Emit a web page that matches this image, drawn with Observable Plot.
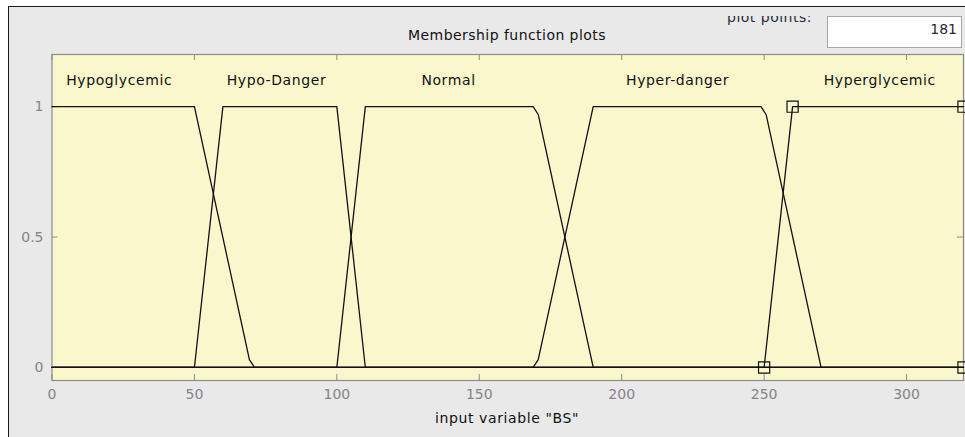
<!DOCTYPE html>
<html><head><meta charset="utf-8">
<script src="https://cdn.jsdelivr.net/npm/d3@7"></script>
<script src="https://cdn.jsdelivr.net/npm/@observablehq/plot@0.6"></script>
<style>
html,body{margin:0;padding:0;background:#fff;}
#wrap{position:relative;width:965px;height:437px;overflow:hidden;background:#fff;}
#panel{position:absolute;left:8px;top:6px;right:0;bottom:0;background:#e9e9e9;border-left:1.5px solid #1a1a1a;border-top:1.5px solid #1a1a1a;}
#chart{position:absolute;left:0;top:0;}
svg text{font-family:"DejaVu Sans",sans-serif;}
</style></head><body>
<div id="wrap"><div id="panel"></div><div id="chart"></div></div>
<script>
// ---- data ----
const xDomain = [0, 320];
const yDomain = [-0.05, 1.2];
const xTicks = [0, 50, 100, 150, 200, 250, 300];
const yTicks = [0, 0.5, 1];
const yTickLabels = ["0", "0.5", "1"];

const mfNames = ["Hypoglycemic", "Hypo-Danger", "Normal", "Hyper-danger", "Hyperglycemic"];
const mfLabelX = [23.6, 78.8, 139.2, 219.6, 290.6];
const mfLabelY = 1.1;

const hypoglycemicX = [0, 50, 69.3, 71.1, 320];
const hypoglycemicY = [1, 1, 0.03, 0, 0];
const hypoDangerX = [0, 50, 60, 100, 110, 320];
const hypoDangerY = [0, 0, 1, 1, 0, 0];
const normalX = [0, 100, 110, 168.9, 170.7, 190, 320];
const normalY = [0, 0, 1, 1, 0.97, 0, 0];
const hyperDangerX = [0, 168.9, 170.7, 190, 248.9, 250.7, 270, 320];
const hyperDangerY = [0, 0, 0.03, 1, 1, 0.97, 0, 0];
const hyperglycemicX = [0, 250, 260, 320];
const hyperglycemicY = [0, 0, 1, 1];

const selectedX = [250, 260, 320, 320];
const selectedY = [0, 1, 1, 0];

const title = "Membership function plots";
const xLabel = 'input variable "BS"';
const pointsLabel = "plot points:";
const pointsValue = "181";

// ---- tables ----
const curves = [
  [hypoglycemicX, hypoglycemicY], [hypoDangerX, hypoDangerY], [normalX, normalY],
  [hyperDangerX, hyperDangerY], [hyperglycemicX, hyperglycemicY]
];
const mfTable = curves.flatMap(([xs, ys], k) => xs.map((x, i) => ({mf: mfNames[k], x, y: ys[i]})));
const selTable = selectedX.map((x, i) => ({x, y: selectedY[i]}));
const labelTable = mfNames.map((name, i) => ({name, x: mfLabelX[i], y: mfLabelY}));

// ---- layout ----
const W = 965, H = 437, mL = 51.5, mR = 2, mT = 54, mB = 57;
const plotW = W - mL - mR, plotH = H - mT - mB;
const axisGray = "#858585";
const frameGray = "#8c8c8c";

const chart = Plot.plot({
  width: W, height: H,
  marginLeft: mL, marginRight: mR, marginTop: mT, marginBottom: mB,
  style: {background: "transparent", fontFamily: "DejaVu Sans", fontSize: "14px"},
  x: {domain: xDomain},
  y: {domain: yDomain},
  marks: [
    Plot.frame({fill: "#fbf7cd", stroke: "none"}),
    Plot.tickX(xTicks, {x: d => d, stroke: frameGray, insetTop: plotH - 6}),
    Plot.tickX(xTicks, {x: d => d, stroke: frameGray, insetBottom: plotH - 6}),
    Plot.tickY(yTicks, {y: d => d, stroke: frameGray, insetRight: plotW - 6}),
    Plot.tickY(yTicks, {y: d => d, stroke: frameGray, insetLeft: plotW - 6}),
    Plot.frame({stroke: frameGray, strokeWidth: 1.2}),
    Plot.axisX({ticks: xTicks, tickSize: 0, tickPadding: 9, label: null, color: axisGray, fontSize: 14}),
    Plot.axisY({ticks: yTicks, tickSize: 0, tickPadding: 8.5, label: null, color: axisGray, fontSize: 14,
      tickFormat: d => yTickLabels[yTicks.indexOf(d)]}),
    Plot.line(mfTable, {x: "x", y: "y", z: "mf", stroke: "#111", strokeWidth: 1.3}),
    Plot.dot(selTable, {x: "x", y: "y", symbol: "square", r: 6.3, stroke: "#111", strokeWidth: 1.2, fill: "none"}),
    Plot.text(labelTable, {x: "x", y: "y", text: "name", fill: "#111", fontSize: 14})
  ]
});
document.getElementById("chart").appendChild(chart);

// ---- decorations (title, plot points box, x label) ----
const svg = d3.select(chart);
svg.selectAll('g[aria-label="text"] text').attr("letter-spacing", "0.6px");
const deco = svg.append("g").attr("font-family", "DejaVu Sans, sans-serif").attr("font-size", 14);
deco.append("text").attr("x", 507).attr("y", 40).attr("text-anchor", "middle")
  .attr("fill", "#111").attr("letter-spacing", "0.45px").text(title);
deco.append("text").attr("x", 507).attr("y", 423).attr("text-anchor", "middle")
  .attr("fill", "#111").attr("letter-spacing", "0.6px").text(xLabel);
svg.append("clipPath").attr("id", "ppclip").append("rect")
  .attr("x", 600).attr("y", 16).attr("width", 220).attr("height", 20);
deco.append("text").attr("x", 812).attr("y", 22).attr("text-anchor", "end")
  .attr("clip-path", "url(#ppclip)").attr("fill", "#2a2a3a").attr("letter-spacing", "0.5px").text(pointsLabel);
deco.append("rect").attr("x", 827.5).attr("y", 16.5).attr("width", 134).attr("height", 31)
  .attr("fill", "#fff").attr("stroke", "#a6a6a6");
deco.append("text").attr("x", 957).attr("y", 34).attr("text-anchor", "end")
  .attr("fill", "#2a2440").text(pointsValue);
</script>
</body></html>
